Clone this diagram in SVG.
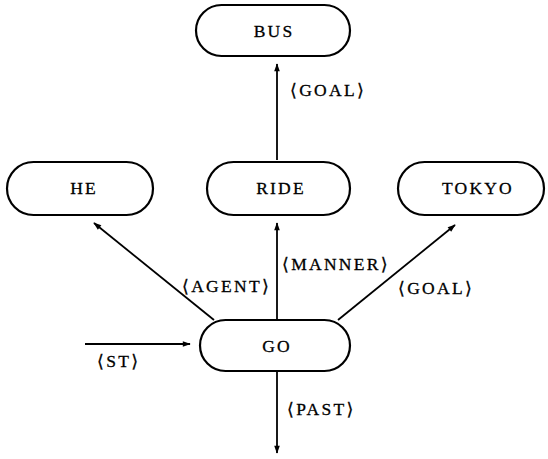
<svg xmlns="http://www.w3.org/2000/svg" width="548" height="459" viewBox="0 0 548 459">
<defs>
<marker id="ah" viewBox="0 0 10 10" refX="9" refY="5" markerWidth="9" markerHeight="8" markerUnits="userSpaceOnUse" orient="auto">
<path d="M0,1.5 L10,5 L0,8.5 Z" fill="#000"/>
</marker>
<style>
.box{fill:#fff;stroke:#000;stroke-width:2.2}
.lbl{font-family:"Liberation Serif","DejaVu Serif",serif;font-size:17.5px;fill:#000;stroke:#000;stroke-width:0.3;letter-spacing:2.3px}
.nl{font-family:"Liberation Serif","DejaVu Serif",serif;font-size:17.5px;fill:#000;stroke:#000;stroke-width:0.3;text-anchor:middle;letter-spacing:2.2px}
.edge{stroke:#000;stroke-width:1.8;fill:none;marker-end:url(#ah)}
</style>
</defs>
<rect width="548" height="459" fill="#fff"/>
<g id="connectors">
<line class="edge" x1="277" y1="160" x2="277" y2="64"/>
<line class="edge" x1="214" y1="320" x2="94" y2="223"/>
<line class="edge" x1="277" y1="320" x2="277" y2="223"/>
<line class="edge" x1="338" y1="320" x2="455" y2="225"/>
<line class="edge" x1="85" y1="344" x2="190" y2="344"/>
<line class="edge" x1="277" y1="371" x2="277" y2="453"/>
<text class="lbl" x="290" y="96">⟨GOAL⟩</text>
<text class="lbl" x="182" y="292">⟨AGENT⟩</text>
<text class="lbl" x="282" y="270">⟨MANNER⟩</text>
<text class="lbl" x="398" y="294">⟨GOAL⟩</text>
<text class="lbl" x="97" y="367">⟨ST⟩</text>
<text class="lbl" x="287" y="415">⟨PAST⟩</text>
</g>
<g id="bus"><rect class="box" x="196" y="5" width="154" height="51" rx="25.5"/><text class="nl" x="274" y="37">BUS</text></g>
<g id="he"><rect class="box" x="7" y="162" width="146" height="53" rx="26.5"/><text class="nl" x="84" y="194">HE</text></g>
<g id="ride"><rect class="box" x="207" y="162" width="143" height="53" rx="26.5"/><text class="nl" x="281" y="194">RIDE</text></g>
<g id="tokyo"><rect class="box" x="398" y="162" width="146" height="53" rx="26.5"/><text class="nl" x="478" y="194">TOKYO</text></g>
<g id="go"><rect class="box" x="200" y="320" width="150" height="51" rx="25.5"/><text class="nl" x="277" y="352">GO</text></g>
</svg>
